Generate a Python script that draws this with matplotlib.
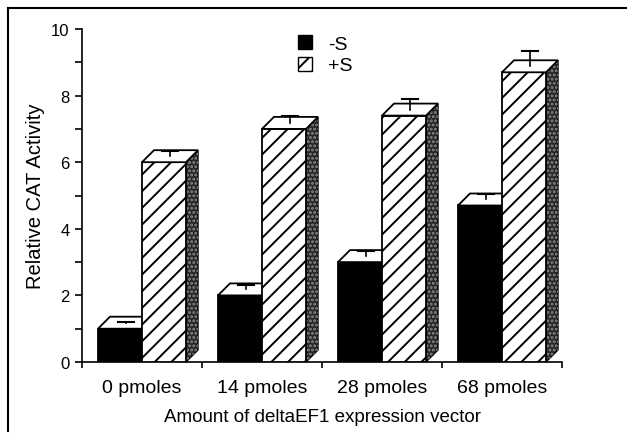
import matplotlib
matplotlib.use("Agg")
import matplotlib.pyplot as plt
from matplotlib.patches import Polygon, Rectangle
from matplotlib.lines import Line2D

categories = ["0 pmoles", "14 pmoles", "28 pmoles", "68 pmoles"]
minus_s = [1.0, 2.0, 3.0, 4.7]
plus_s = [6.0, 7.0, 7.4, 8.7]
minus_s_err = [0.03, 0.14, 0.16, 0.16]
plus_s_err = [0.16, 0.21, 0.31, 0.46]
series_labels = ["-S", "+S"]
yticks = [0, 2, 4, 6, 8, 10]

plt.rcParams['font.family'] = ['Liberation Sans', 'DejaVu Sans']
plt.rcParams['hatch.linewidth'] = 1.4

fig = plt.figure(figsize=(6.27, 4.35), dpi=100)
ax = fig.add_axes([82/627, 1-363/435, 480/627, 333/435])
ax.set_xlim(0, len(categories))
ax.set_ylim(0, 10)

bw = 44/120
off = 16/120
dx = 12/120
dy = 12/(333/10)

def bar3d(x0, v, err, front_fc, hatch):
    x1 = x0 + bw
    side_pts = [(x1, 0), (x1+dx, dy), (x1+dx, v+dy), (x1, v)]
    side = Polygon(side_pts, closed=True, facecolor='#262626',
                   edgecolor='black', lw=1.0, zorder=3)
    speck = Polygon(side_pts, closed=True, facecolor='none',
                    edgecolor='#8a8a8a', lw=0, hatch='....', zorder=3.1)
    front = Polygon([(x0, 0), (x1, 0), (x1, v), (x0, v)], closed=True,
                    facecolor=front_fc, edgecolor='black', lw=1.3,
                    hatch=hatch, zorder=3.2)
    top = Polygon([(x0, v), (x1, v), (x1+dx, v+dy), (x0+dx, v+dy)], closed=True,
                  facecolor='white', edgecolor='black', lw=1.3, zorder=3.2)
    ax.add_patch(side)
    ax.add_patch(speck)
    ax.add_patch(front)
    ax.add_patch(top)
    xc = (x0 + x1)/2 + dx/2
    yb = v + dy/2
    ax.plot([xc, xc], [yb, yb+err], color='black', lw=1.2, zorder=4, clip_on=False)
    ax.plot([xc-0.07, xc+0.07], [yb+err, yb+err], color='black', lw=1.5, zorder=4, clip_on=False)

for i in range(len(categories)):
    bar3d(i + off, minus_s[i], minus_s_err[i], 'black', None)
    bar3d(i + off + bw, plus_s[i], plus_s_err[i], 'white', '//')

# axes styling
for s in ['top', 'right']:
    ax.spines[s].set_visible(False)
ax.spines['left'].set_linewidth(1.2)
ax.spines['bottom'].set_linewidth(1.2)
ax.set_yticks(yticks)
ax.set_yticks([1, 3, 5, 7, 9], minor=True)
ax.tick_params(axis='y', which='major', length=5, width=1.2, labelsize=12, pad=4)
ax.tick_params(axis='y', which='minor', length=5, width=1.2)
ax.set_xticks(range(len(categories)+1))
ax.set_xticklabels([])
ax.set_xticks([i + 0.5 for i in range(len(categories))], minor=True)
ax.set_xticklabels(categories, minor=True, fontsize=14)
ax.tick_params(axis='x', which='major', length=4, width=1.2)
ax.tick_params(axis='x', which='minor', length=0, pad=12)
ax.set_ylabel("Relative CAT Activity", fontsize=14.5, labelpad=4)
ax.set_xlabel("Amount of deltaEF1 expression vector", fontsize=13.5, labelpad=9)

# legend
h1 = Rectangle((0, 0), 1, 1, facecolor='black', edgecolor='black')
h2 = Rectangle((0, 0), 1, 1, facecolor='white', edgecolor='black', hatch='//')
leg = ax.legend([h1, h2], series_labels, loc='upper left',
                bbox_to_anchor=((288-82)/480, 1.0 + (30-26)/333),
                frameon=False, fontsize=14, handlelength=0.75, handleheight=0.75,
                handletextpad=0.8, labelspacing=0.2, borderpad=0)

# outer frame (top and left lines)
fig.add_artist(Line2D([8/627, 1.0], [1-9/435, 1-9/435], color='black', lw=1.5))
fig.add_artist(Line2D([8/627, 8/627], [1-9/435, 1-432/435], color='black', lw=1.5))

fig.savefig("out.png", dpi=100)
